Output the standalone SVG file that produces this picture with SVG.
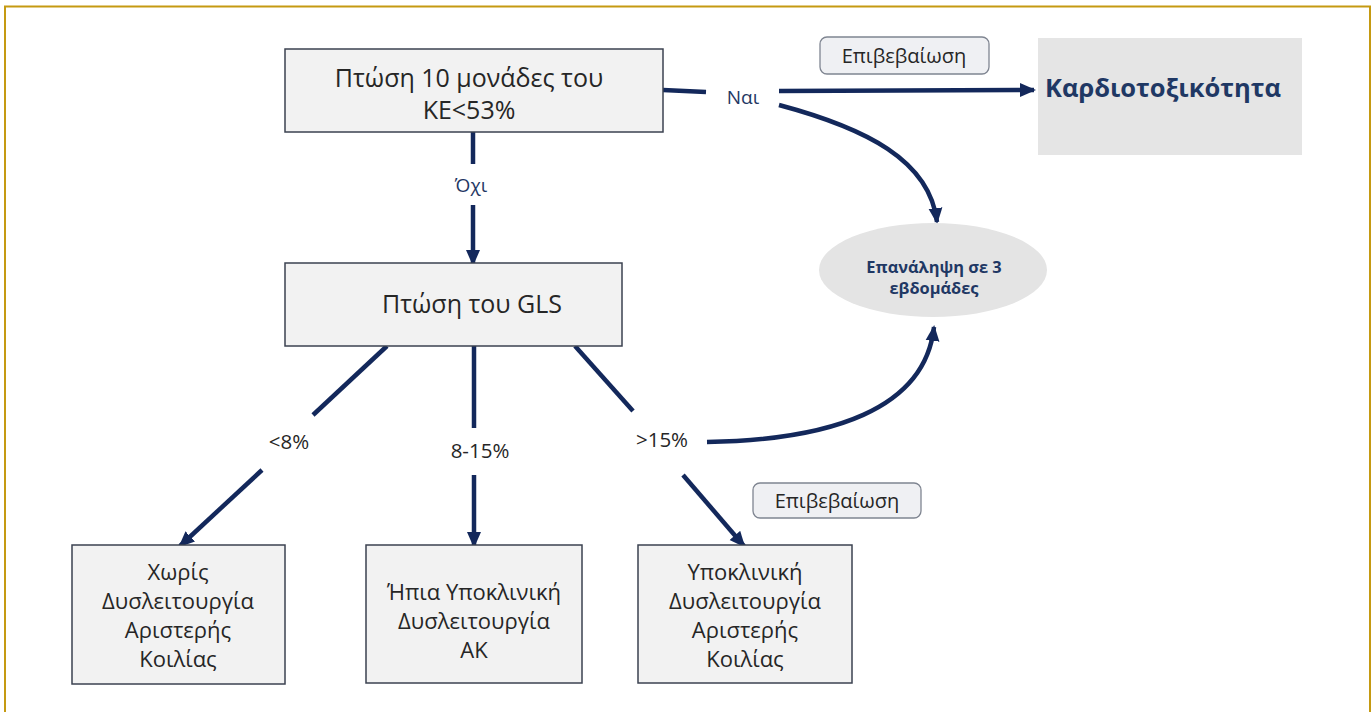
<svg xmlns="http://www.w3.org/2000/svg" width="1372" height="712" viewBox="0 0 1372 712">
  <style>
    .box { fill: #f2f2f2; stroke: #3b4250; stroke-width: 1.5; }
    .tag { fill: #eff0f3; stroke: #7f8591; stroke-width: 1.3; }
    .txt { font-family: "Open Sans", "Noto Sans", sans-serif; fill: #262626; text-anchor: middle; }
    .lbl { font-family: "Open Sans", "Noto Sans", sans-serif; fill: #262626; text-anchor: middle; font-size: 20.5px; }
    .nav { font-family: "Open Sans", "Noto Sans", sans-serif; fill: #1f3864; text-anchor: middle; font-size: 19px; }
    .bold { font-family: "Open Sans", "Noto Sans", sans-serif; fill: #1f3864; text-anchor: middle; font-weight: bold; }
    .con { fill: none; stroke: #13285b; stroke-width: 4.5; stroke-linecap: butt; }
    .multi { font-size: 22px; }
  </style>
  <defs>
    <marker id="arrow" markerUnits="userSpaceOnUse" markerWidth="16" markerHeight="16" viewBox="0 0 16 16" refX="14" refY="8" orient="auto">
      <path d="M0,1 L16,8 L0,15 Z" fill="#13285b"/>
    </marker>
  </defs>

  <!-- outer frame -->
  <rect x="5" y="6.5" width="1365" height="720" fill="#ffffff" stroke="#c59a12" stroke-width="2"/>

  <!-- connectors -->
  <g id="connectors">
    <line class="con" x1="663" y1="90" x2="706" y2="92"/>
    <line class="con" x1="779" y1="91" x2="1034" y2="90" marker-end="url(#arrow)"/>
    <path class="con" d="M779,105 C865,128 930,160 937,222" marker-end="url(#arrow)"/>
    <line class="con" x1="473" y1="132" x2="473" y2="164"/>
    <line class="con" x1="473" y1="205" x2="473" y2="264" marker-end="url(#arrow)"/>
    <line class="con" x1="387" y1="346" x2="313" y2="415"/>
    <line class="con" x1="262" y1="470" x2="180" y2="546" marker-end="url(#arrow)"/>
    <line class="con" x1="474" y1="346" x2="474" y2="428"/>
    <line class="con" x1="474" y1="475" x2="474" y2="546" marker-end="url(#arrow)"/>
    <line class="con" x1="575" y1="346" x2="633" y2="411"/>
    <line class="con" x1="683" y1="475" x2="744" y2="546" marker-end="url(#arrow)"/>
    <path class="con" d="M707,442 C830,440 925,410 934,327" marker-end="url(#arrow)"/>
  </g>

  <!-- connector labels -->
  <g id="labels">
    <text class="nav" x="743" y="104">Ναι</text>
    <text class="nav" x="471" y="192">Όχι</text>
    <text class="lbl" x="289" y="449">&lt;8%</text>
    <text class="lbl" x="480" y="458">8-15%</text>
    <text class="lbl" x="662" y="447">&gt;15%</text>
  </g>

  <g id="node-drop-ke">
    <rect class="box" x="285" y="49" width="378" height="83"/>
    <text class="txt" font-size="25" x="469" y="87">Πτώση 10 μονάδες του</text>
    <text class="txt" font-size="25" x="469" y="119">KE&lt;53%</text>
  </g>

  <g id="node-confirm-top">
    <rect class="tag" x="820" y="37" width="169" height="37" rx="7"/>
    <text class="txt" font-size="20" x="904" y="63">Επιβεβαίωση</text>
  </g>

  <g id="node-cardiotoxicity">
    <rect x="1038" y="38" width="264" height="117" fill="#e5e5e5"/>
    <text class="bold" font-size="25.5" x="1163" y="97">Καρδιοτοξικότητα</text>
  </g>

  <g id="node-repeat">
    <ellipse cx="933" cy="270" rx="114" ry="47" fill="#e4e4e4"/>
    <text class="bold" font-size="16.4" x="934" y="273">Επανάληψη σε 3</text>
    <text class="bold" font-size="16.4" x="934" y="294">εβδομάδες</text>
  </g>

  <g id="node-gls">
    <rect class="box" x="285" y="263" width="337" height="83"/>
    <text class="txt" font-size="25" x="472" y="313">Πτώση του GLS</text>
  </g>

  <g id="node-confirm-bottom">
    <rect class="tag" x="753" y="483" width="168" height="35" rx="7"/>
    <text class="txt" font-size="20" x="837" y="508">Επιβεβαίωση</text>
  </g>

  <g id="node-no-dysfunction">
    <rect class="box" x="72" y="545" width="213" height="139"/>
    <text class="txt multi" x="178" y="580">Χωρίς</text>
    <text class="txt multi" x="178" y="609">Δυσλειτουργία</text>
    <text class="txt multi" x="178" y="638">Αριστερής</text>
    <text class="txt multi" x="178" y="667">Κοιλίας</text>
  </g>

  <g id="node-mild">
    <rect class="box" x="366" y="545" width="216" height="138"/>
    <text class="txt multi" x="474" y="600">Ήπια Υποκλινική</text>
    <text class="txt multi" x="474" y="629">Δυσλειτουργία</text>
    <text class="txt multi" x="474" y="658">ΑΚ</text>
  </g>

  <g id="node-subclinical">
    <rect class="box" x="638" y="545" width="214" height="138"/>
    <text class="txt multi" x="745" y="580">Υποκλινική</text>
    <text class="txt multi" x="745" y="609">Δυσλειτουργία</text>
    <text class="txt multi" x="745" y="638">Αριστερής</text>
    <text class="txt multi" x="745" y="667">Κοιλίας</text>
  </g>
</svg>
